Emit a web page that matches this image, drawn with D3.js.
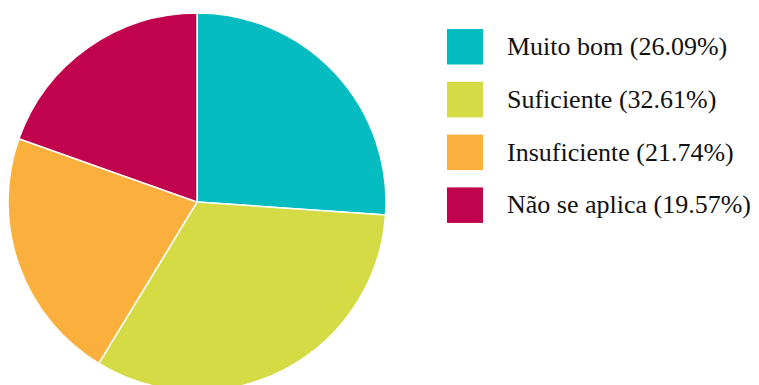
<!DOCTYPE html>
<html>
<head>
<meta charset="utf-8">
<script src="https://cdn.jsdelivr.net/npm/d3@7"></script>
<style>
  body { margin: 0; background: #fff; }
</style>
</head>
<body>
<div id="chart"></div>
<script>
var categories = ['Muito bom', 'Suficiente', 'Insuficiente', 'Não se aplica'];
var counts = [12, 15, 10, 9];
var colors = ['#05bcc1', '#d4db45', '#fbb03e', '#c1024c'];

var width = 759, height = 385;
var cx = 197, cy = 202, radius = 189;

var total = d3.sum(counts);
var data = categories.map((c, i) => ({ name: c, value: counts[i] }));

var colorScale = d3.scaleOrdinal().domain(categories).range(colors);

var svg = d3.select('#chart').append('svg')
    .attr('width', width)
    .attr('height', height);

var pieGen = d3.pie().value(d => d.value).sort(null);
var arcGen = d3.arc().innerRadius(0).outerRadius(radius);

svg.append('g')
    .attr('transform', 'translate(' + cx + ',' + cy + ')')
    .selectAll('path')
    .data(pieGen(data))
    .join('path')
    .attr('d', arcGen)
    .style('fill', d => colorScale(d.data.name))
    .style('stroke', '#fff')
    .style('stroke-width', 1.5);

// legend
var legend = svg.append('g').attr('transform', 'translate(447, 29)');
var rows = legend.selectAll('g')
    .data(data)
    .join('g')
    .attr('transform', (d, i) => 'translate(0,' + i * 52.8 + ')');
rows.append('rect')
    .attr('width', 36)
    .attr('height', 35.5)
    .style('fill', d => colorScale(d.name));
rows.append('text')
    .attr('x', 60)
    .attr('y', 26)
    .attr('font-family', "'Liberation Serif', 'Times New Roman', Times, serif")
    .style('font-size', '26px')
    .style('fill', '#111')
    .text(d => d.name + ' (' + (d.value / total * 100).toFixed(2) + '%)');
</script>
</body>
</html>
